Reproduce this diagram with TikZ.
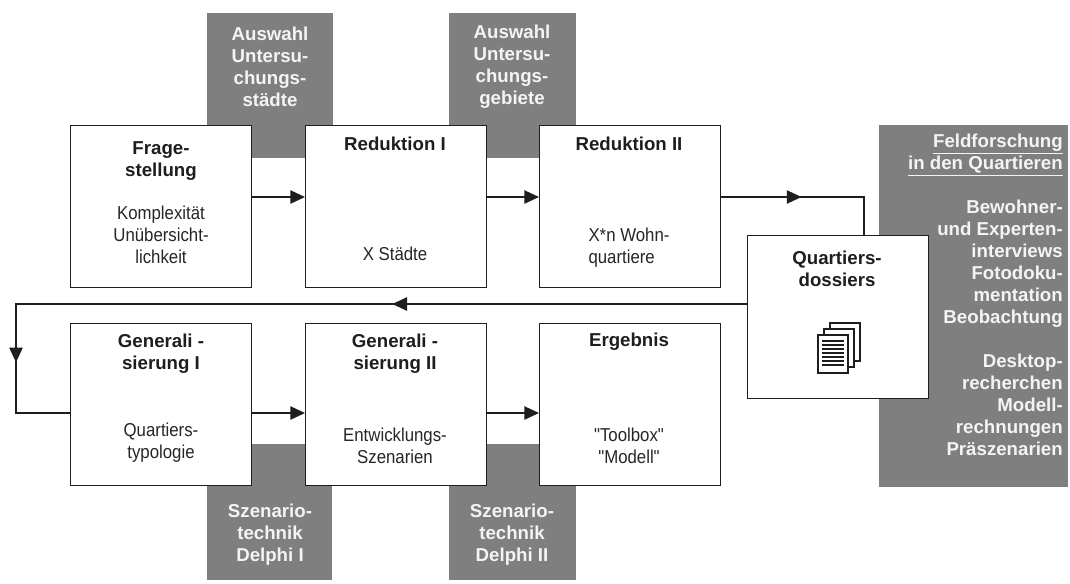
\documentclass[tikz,border=0pt]{standalone}
\usepackage{fontspec}
\setmainfont{Liberation Sans}
\newfontfamily\bodyfont[FakeStretch=0.9]{Liberation Sans}
\usetikzlibrary{arrows.meta,decorations.markings}
\definecolor{greyfill}{HTML}{7F7F7F}
\definecolor{greytext}{HTML}{F4F4F4}
\definecolor{inkc}{HTML}{1E1E1E}
\begin{document}
\begin{tikzpicture}[x=0.75pt,y=-0.75pt,
  whitebox/.style={draw=inkc, line width=1.1pt, fill=white, inner sep=0pt, anchor=north west,
    minimum width=181*0.75pt, minimum height=162*0.75pt},
  greybox/.style={fill=greyfill, draw=none, inner sep=0pt, anchor=north west},
  head/.style={font=\bfseries\fontsize{14pt}{16.5pt}\selectfont, align=center, inner sep=0pt, text=inkc},
  body/.style={font=\bodyfont\fontsize{14pt}{16.5pt}\selectfont, align=center, inner sep=0pt, text=black!85},
  greylabel/.style={font=\bfseries\fontsize{14pt}{16.5pt}\selectfont, align=center, inner sep=0pt, text=greytext},
  conn/.style={draw=inkc, line width=1pt, -{Triangle[length=11pt,width=10pt]}},
  plainline/.style={draw=inkc, line width=1pt}
]
\useasboundingbox (0,0) rectangle (1070,583);
\fill[white] (0,0) rectangle (1070,583);

% grey background boxes
\node[greybox, minimum width=126*0.75pt, minimum height=145*0.75pt] (g1) at (207,13) {};
\node[greybox, minimum width=127*0.75pt, minimum height=145*0.75pt] (g2) at (449,13) {};
\node[greybox, minimum width=125*0.75pt, minimum height=136*0.75pt] (g3) at (207,444) {};
\node[greybox, minimum width=127*0.75pt, minimum height=136*0.75pt] (g4) at (449,444) {};
\node[greybox, minimum width=189*0.75pt, minimum height=362*0.75pt] (feld) at (879,125) {};

% white boxes
\node[whitebox] (frage) at (70,125) {};
\node[whitebox] (red1) at (305,125) {};
\node[whitebox] (red2) at (539,125) {};
\node[whitebox] (gen1) at (70,323) {};
\node[whitebox] (gen2) at (305,323) {};
\node[whitebox] (erg) at (539,323) {};
\node[whitebox, minimum width=181*0.75pt, minimum height=163*0.75pt] (quart) at (747,235) {};

% helper coordinates
\coordinate (ya) at (0,197);
\coordinate (yb) at (0,413);
\coordinate (yr) at (0,304);
\coordinate (xr) at (864,0);
\coordinate (xl) at (16,0);

% connectors
\draw[conn] (frage.east |- ya) -- (red1.west |- ya);
\draw[conn] (red1.east |- ya) -- (red2.west |- ya);
\draw[plainline, postaction={decorate}, decoration={markings,
    mark=at position 60pt with {\arrow{Triangle[length=11pt,width=10pt]}}}]
  (red2.east |- ya) -- (xr |- ya) -- (xr |- quart.north);
\draw[plainline, postaction={decorate}, decoration={markings,
    mark=at position 266pt with {\arrow{Triangle[length=11pt,width=10pt]}},
    mark=at position 592pt with {\arrow{Triangle[length=11pt,width=10pt]}}}]
  (quart.west |- yr) -- (xl |- yr) -- (xl |- yb) -- (gen1.west |- yb);
\draw[conn] (gen1.east |- yb) -- (gen2.west |- yb);
\draw[conn] (gen2.east |- yb) -- (erg.west |- yb);

% document icon
\foreach \dx/\dy in {12/-12, 6/-6, 0/0} {
  \draw[draw=inkc, line width=0.9pt, fill=white] (818+\dx,335+\dy) rectangle (848+\dx,373+\dy);
}
\foreach \yy in {341,345,349,353,357,361,365} {
  \draw[inkc, line width=0.8pt] (822,\yy) -- (844,\yy);
}

% labels in grey boxes
\node[greylabel] (g1t) at (270,66.5) {Auswahl\\Untersu-\\chungs-\\städte};
\node[greylabel] (g2t) at (512,66.5) {Auswahl\\Untersu-\\chungs-\\gebiete};
\node[greylabel] (g3t) at (270,534.5) {Szenario-\\technik\\Delphi I};
\node[greylabel] (g4t) at (512,534.5) {Szenario-\\technik\\Delphi II};
\node[greylabel, align=right, anchor=north east] (feldt) at (1063,134)
  {\underline{Feldforschung}\\\underline{in den Quartieren}\\[16.5pt]
   Bewohner-\\und Experten-\\interviews\\Fotodoku-\\mentation\\Beobachtung\\[16.5pt]
   Desktop-\\recherchen\\Modell-\\rechnungen\\Präszenarien};

% texts in white boxes
\node[head] (frageh) at (161,161) {Frage-\\stellung};
\node[body] (frageb) at (161,235) {Komplexität\\Unübersicht-\\lichkeit};
\node[head] (red1h) at (395,144) {Reduktion I};
\node[body] (red1b) at (395,254) {X Städte};
\node[head] (red2h) at (629,144) {Reduktion II};
\node[body, align=left] (red2b) at (629,248) {X*n Wohn-\\quartiere};
\node[head] (quarth) at (837,269) {Quartiers-\\dossiers};
\node[head] (gen1h) at (161,353.5) {Generali -\\sierung I};
\node[body] (gen1b) at (161,443) {Quartiers-\\typologie};
\node[head] (gen2h) at (395,353.5) {Generali -\\sierung II};
\node[body] (gen2b) at (395,446) {Entwicklungs-\\Szenarien};
\node[head] (ergh) at (629,342) {Ergebnis};
\node[body] (ergb) at (629,446) {"Toolbox"\\"Modell"};
\end{tikzpicture}
\end{document}
